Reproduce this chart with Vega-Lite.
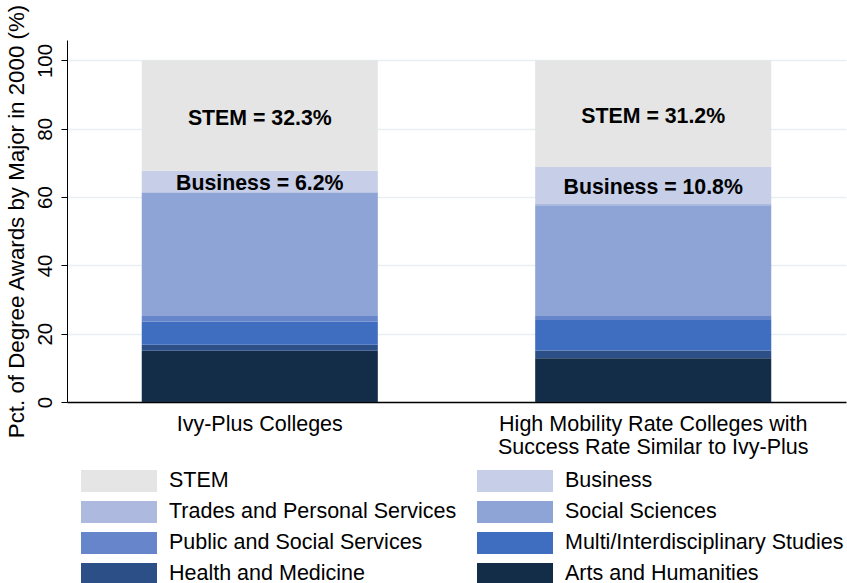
{
  "$schema": "https://vega.github.io/schema/vega-lite/v6.json",
  "width": 779,
  "height": 362,
  "autosize": {"type": "none"},
  "padding": {"left": 67, "top": 40, "right": 1, "bottom": 181},
  "background": "white",
  "config": {"font": "Liberation Sans", "view": {"stroke": null}},
  "data": {
    "values": [
      {"college": "Ivy-Plus Colleges", "major": "Arts and Humanities", "ord": 1, "pct": 15.0},
      {"college": "Ivy-Plus Colleges", "major": "Health and Medicine", "ord": 2, "pct": 1.8},
      {"college": "Ivy-Plus Colleges", "major": "Multi/Interdisciplinary Studies", "ord": 3, "pct": 6.7},
      {"college": "Ivy-Plus Colleges", "major": "Public and Social Services", "ord": 4, "pct": 1.7},
      {"college": "Ivy-Plus Colleges", "major": "Social Sciences", "ord": 5, "pct": 36.1},
      {"college": "Ivy-Plus Colleges", "major": "Trades and Personal Services", "ord": 6, "pct": 0.2},
      {"college": "Ivy-Plus Colleges", "major": "Business", "ord": 7, "pct": 6.2},
      {"college": "Ivy-Plus Colleges", "major": "STEM", "ord": 8, "pct": 32.3},
      {"college": "High Mobility Rate Colleges with|Success Rate Similar to Ivy-Plus", "major": "Arts and Humanities", "ord": 1, "pct": 12.8},
      {"college": "High Mobility Rate Colleges with|Success Rate Similar to Ivy-Plus", "major": "Health and Medicine", "ord": 2, "pct": 2.3},
      {"college": "High Mobility Rate Colleges with|Success Rate Similar to Ivy-Plus", "major": "Multi/Interdisciplinary Studies", "ord": 3, "pct": 8.9},
      {"college": "High Mobility Rate Colleges with|Success Rate Similar to Ivy-Plus", "major": "Public and Social Services", "ord": 4, "pct": 1.2},
      {"college": "High Mobility Rate Colleges with|Success Rate Similar to Ivy-Plus", "major": "Social Sciences", "ord": 5, "pct": 32.4},
      {"college": "High Mobility Rate Colleges with|Success Rate Similar to Ivy-Plus", "major": "Trades and Personal Services", "ord": 6, "pct": 0.4},
      {"college": "High Mobility Rate Colleges with|Success Rate Similar to Ivy-Plus", "major": "Business", "ord": 7, "pct": 10.8},
      {"college": "High Mobility Rate Colleges with|Success Rate Similar to Ivy-Plus", "major": "STEM", "ord": 8, "pct": 31.2}
    ]
  },
  "transform": [
    {"stack": "pct", "groupby": ["college"], "sort": [{"field": "ord", "order": "ascending"}], "as": ["y0", "y1"]},
    {"calculate": "(datum.y0 + datum.y1) / 2", "as": "ymid"}
  ],
  "encoding": {
    "x": {
      "field": "college",
      "type": "nominal",
      "sort": null,
      "scale": {"paddingInner": 0.4, "paddingOuter": 0.19},
      "axis": {
        "title": null,
        "labelAngle": 0,
        "labelFontSize": 21.5,
        "labelColor": "black",
        "labelExpr": "split(datum.label, '|')",
        "labelLineHeight": 23,
        "labelPadding": 11,
        "ticks": false,
        "domainColor": "black",
        "domainWidth": 1.5,
        "labelLimit": 500
      }
    }
  },
  "layer": [
    {
      "mark": {"type": "bar"},
      "encoding": {
        "y": {
          "field": "y1",
          "type": "quantitative",
          "scale": {"domain": [0, 106], "nice": false},
          "axis": {
            "title": "Pct. of Degree Awards by Major in 2000 (%)",
            "titleFontSize": 22.3,
            "titleFontWeight": "normal",
            "titleColor": "black",
            "titlePadding": 7,
            "values": [0, 20, 40, 60, 80, 100],
            "labelAngle": -90,
            "labelFontSize": 20.5,
            "labelColor": "black",
            "labelPadding": 6,
            "tickSize": 6,
            "tickColor": "black",
            "domainColor": "black",
            "domainWidth": 1,
            "grid": true,
            "gridColor": "#e7eff1",
            "gridWidth": 1.5
          }
        },
        "y2": {"field": "y0"},
        "color": {
          "field": "major",
          "type": "nominal",
          "scale": {
            "domain": ["STEM", "Business", "Trades and Personal Services", "Social Sciences", "Public and Social Services", "Multi/Interdisciplinary Studies", "Health and Medicine", "Arts and Humanities"],
            "range": ["#e5e5e5", "#c6cee8", "#adb9df", "#8fa4d6", "#6685ca", "#3f6dbf", "#2d4f88", "#132c47"]
          },
          "legend": {
            "title": null,
            "orient": "none",
            "legendX": 41,
            "legendY": 430,
            "direction": "horizontal",
            "columns": 2,
            "symbolType": "M-3.4545,-1L3.4545,-1L3.4545,1L-3.4545,1Z",
            "symbolSize": 484,
            "symbolStrokeWidth": 0,
            "symbolOpacity": 1,
            "labelFontSize": 21.5,
            "labelColor": "black",
            "labelOffset": 39,
            "labelLimit": 500,
            "rowPadding": 9,
            "columnPadding": 20
          }
        }
      }
    },
    {
      "transform": [{"filter": "datum.major == 'STEM' || datum.major == 'Business'"}],
      "mark": {"type": "text", "fontSize": 21.3, "fontWeight": "bold", "color": "black", "dy": 3},
      "encoding": {
        "y": {"field": "ymid", "type": "quantitative"},
        "text": {"value": {"expr": "datum.major + ' = ' + format(datum.pct, '.1f') + '%'"}}
      }
    }
  ]
}
